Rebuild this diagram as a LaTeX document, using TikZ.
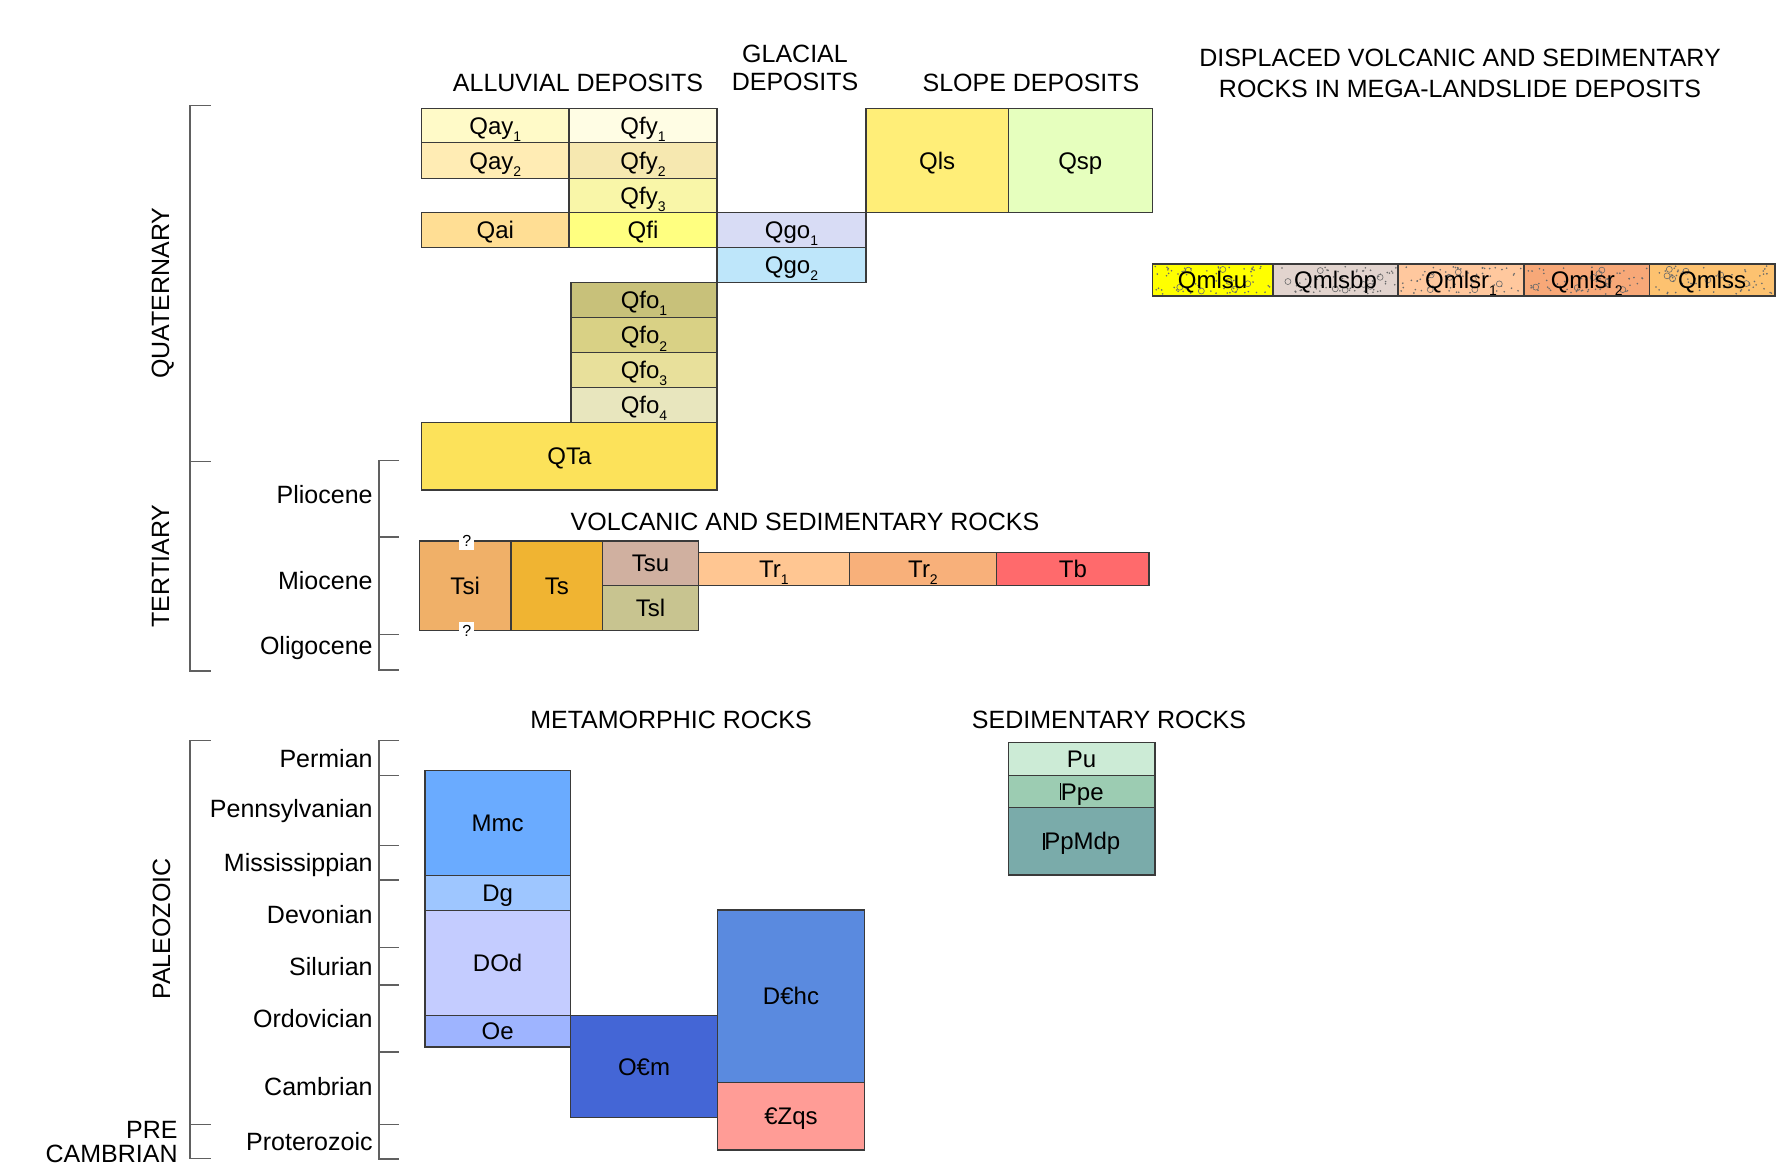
\documentclass[tikz,border=0pt]{standalone}
\usepackage{fontspec}
\setmainfont{Liberation Sans}
\definecolor{boxline}{HTML}{3A3A3A}
\definecolor{brkline}{HTML}{606060}
\definecolor{dotc}{HTML}{6A6A6A}
\newcommand\sub[1]{\raisebox{-3.6pt}{\fontsize{7}{8}\selectfont #1}}
\newcommand\pennP{\mbox{\vrule height 0.716em depth 0pt width 0.075em\kern-0.02em P}}
\newcommand\ubx[8]{%
  \pgfmathsetmacro\ubW{(#4-#2)*0.5}%
  \pgfmathsetmacro\ubH{(#5-#3)*0.5}%
  \definecolor{ubfill}{HTML}{#6}%
  \node[ubox, fill=ubfill, minimum width=\ubW pt, minimum height=\ubH pt, #8] (#1) at ({(#2+#4)/2},{(#3+#5)/2}) {#7};}
% stippled unit: fill + random dots and small rings underneath, then the framed node
\newcommand\stipx[7]{%
  \pgfmathsetmacro\ubW{(#4-#2)*0.5}%
  \pgfmathsetmacro\ubH{(#5-#3)*0.5}%
  \definecolor{ubfill}{HTML}{#6}%
  \fill[ubfill] (#2,#3) rectangle (#4,#5);
  \foreach \k in {1,...,60}{%
    \pgfmathsetmacro\rx{#2+2+rnd*(#4-#2-4)}\pgfmathsetmacro\ry{#3+2+rnd*(#5-#3-4)}%
    \fill[dotc] (\rx,\ry) circle (0.45pt);}
  \foreach \k in {1,...,7}{%
    \pgfmathsetmacro\rx{#2+5+rnd*(#4-#2-10)}\pgfmathsetmacro\ry{#3+5+rnd*(#5-#3-10)}%
    \draw[dotc, line width=0.3pt] (\rx,\ry) circle (1.5pt);}
  \node[ubox, minimum width=\ubW pt, minimum height=\ubH pt] (#1) at ({(#2+#4)/2},{(#3+#5)/2}) {#7};}
\tikzset{
  ubox/.style={draw=boxline, line width=0.6pt, inner sep=0pt, outer sep=0pt,
    font=\fontsize{12}{14}\selectfont, text height=8.6pt, text depth=0pt},
  hdr/.style={font=\fontsize{12.5}{15}\selectfont, inner sep=0pt, text height=9pt, text depth=0pt},
  hdrtwo/.style={inner sep=0pt, align=center, anchor=north},
  eplab/.style={font=\fontsize{12.5}{15}\selectfont, inner sep=0pt, text height=9pt, text depth=0pt, anchor=east},
  brk/.style={draw=brkline, line width=0.6pt},
  qmark/.style={fill=white, inner sep=1.6pt, font=\fontsize{8}{9}\selectfont},
}
\begin{document}
\begin{tikzpicture}[x=0.5pt, y=-0.5pt]
\pgfmathsetseed{17}
\fill[white] (0,0) rectangle (1782,1174);
\useasboundingbox (0,0) rectangle (1782,1174);

% ---------- headers ----------
\node[hdr] (hAll) at (578,82) {ALLUVIAL DEPOSITS};
\node[hdrtwo, font=\fontsize{12.5}{14.3}\selectfont] (hGla) at (795,44.4) {GLACIAL\\DEPOSITS};
\node[hdr] (hSlo) at (1031,82) {SLOPE DEPOSITS};
\node[hdrtwo, font=\fontsize{12.5}{15.3}\selectfont] (hDis) at (1460,49) {DISPLACED VOLCANIC AND SEDIMENTARY\\ROCKS IN MEGA-LANDSLIDE DEPOSITS};
\node[hdr] (hVol) at (805,521.6) {VOLCANIC AND SEDIMENTARY ROCKS};
\node[hdr] (hMet) at (671,719) {METAMORPHIC ROCKS};
\node[hdr] (hSed) at (1109,719) {SEDIMENTARY ROCKS};

% ---------- era labels ----------
\node[hdr, rotate=90] (eQ) at (160,293) {QUATERNARY};
\node[hdr, rotate=90] (eT) at (160,566) {TERTIARY};
\node[hdr, rotate=90] (eP) at (161,929) {PALEOZOIC};
\node[inner sep=0pt, align=right, anchor=north east, font=\fontsize{12.5}{11.9}\selectfont] (ePre) at (178,1120.7) {PRE\\CAMBRIAN};

% ---------- brackets ----------
\draw[brk] (210.7,105.3) -- (190,105.3) -- (190,671) -- (210.7,671);
\draw[brk] (190,461.2) -- (210.7,461.2);
\draw[brk] (399,460.5) -- (379,460.5) -- (379,670) -- (399,670);
\draw[brk] (379,537) -- (399,537);
\draw[brk] (379,634.6) -- (399,634.6);
\draw[brk] (210.7,740.7) -- (190,740.7) -- (190,1158.3) -- (210.7,1158.3);
\draw[brk] (190,1124.3) -- (210.7,1124.3);
\draw[brk] (399,740.7) -- (379,740.7) -- (379,1159) -- (399,1159);
\foreach \yy in {775.3,845.3,880,947.3,985,1052,1124.3}{\draw[brk] (379,\yy) -- (399,\yy);}

% ---------- epoch labels ----------
\node[eplab] (pli) at (373,494) {Pliocene};
\node[eplab] (mio) at (373,580) {Miocene};
\node[eplab] (oli) at (373,645) {Oligocene};
\node[eplab] (per) at (373,758) {Permian};
\node[eplab] (pen) at (373,808) {Pennsylvanian};
\node[eplab] (mis) at (373,862) {Mississippian};
\node[eplab] (dev) at (373,914) {Devonian};
\node[eplab] (sil) at (373,966.5) {Silurian};
\node[eplab] (ord) at (373,1018) {Ordovician};
\node[eplab] (cam) at (373,1086.5) {Cambrian};
\node[eplab] (pro) at (373,1141.5) {Proterozoic};

% ---------- Quaternary units ----------
\ubx{Qay1}{421.7}{108.3}{569}{142.7}{FFFAC8}{Qay\sub{1}}{}
\ubx{Qfy1}{569}{108.3}{717}{142.7}{FFFDE4}{Qfy\sub{1}}{}
\ubx{Qay2}{421.7}{142.7}{569}{178.3}{FFECB4}{Qay\sub{2}}{}
\ubx{Qfy2}{569}{142.7}{717}{178.3}{F6E8B0}{Qfy\sub{2}}{}
\ubx{Qfy3}{569}{178.3}{717}{212.7}{F9F6A8}{Qfy\sub{3}}{}
\ubx{Qai}{421.7}{212.7}{569}{247.3}{FFDE94}{Qai}{}
\ubx{Qfi}{569}{212.7}{717}{247.3}{FFFF80}{Qfi}{}
\ubx{Qgo1}{717}{212.7}{866}{247.3}{D8DCF5}{Qgo\sub{1}}{}
\ubx{Qgo2}{717}{247.3}{866}{282.3}{BEE6FA}{Qgo\sub{2}}{}
\ubx{Qfo1}{571}{282.3}{717}{317.7}{C8C17A}{Qfo\sub{1}}{}
\ubx{Qfo2}{571}{317.7}{717}{352.7}{D9D185}{Qfo\sub{2}}{}
\ubx{Qfo3}{571}{352.7}{717}{387.3}{E8E09B}{Qfo\sub{3}}{}
\ubx{Qfo4}{571}{387.3}{717}{422.3}{E8E6BE}{Qfo\sub{4}}{}
\ubx{QTa}{421.7}{422.3}{717}{490}{FCE25A}{QTa}{}
\ubx{Qls}{866}{108.3}{1008.3}{212.7}{FFEE78}{Qls}{}
\ubx{Qsp}{1008.3}{108.3}{1152.3}{212.7}{E6FFBE}{Qsp}{}

% ---------- mega-landslide units ----------
\stipx{Qmlsu}{1152.3}{264}{1273}{296}{FFFF00}{Qmlsu}
\stipx{Qmlsbp}{1273}{264}{1398}{296}{E2D4CE}{Qmlsbp}
\stipx{Qmlsr1}{1398}{264}{1524}{296}{FFC89E}{Qmlsr\sub{1}}
\stipx{Qmlsr2}{1524}{264}{1649.3}{296}{F7A878}{Qmlsr\sub{2}}
\stipx{Qmlss}{1649.3}{264}{1775}{296}{FDC270}{Qmlss}

% ---------- Tertiary units ----------
\ubx{Tsi}{419.3}{541}{511}{630.7}{F0B068}{Tsi}{}
\ubx{Ts}{511}{541}{602.7}{630.7}{F0B432}{Ts}{}
\ubx{Tsu}{602.7}{541}{698.3}{585.7}{D0B0A0}{Tsu}{}
\ubx{Tsl}{602.7}{585.7}{698.3}{630.7}{C8C490}{Tsl}{}
\ubx{Tr1}{698.3}{552.3}{849.3}{585.5}{FFC692}{Tr\sub{1}}{}
\ubx{Tr2}{849.3}{552.3}{996.7}{585.5}{F8B07A}{Tr\sub{2}}{}
\ubx{Tb}{996.7}{552.3}{1149}{585.5}{FF6A6C}{Tb}{}
\node[qmark] (q1) at (466.7,541) {?};
\node[qmark] (q2) at (466.7,630.7) {?};

% ---------- metamorphic units ----------
\ubx{Mmc}{425}{770.7}{570.3}{875.7}{6AABFF}{Mmc}{}
\ubx{Dg}{425}{875.7}{570.3}{910.3}{9EC6FF}{Dg}{}
\ubx{DOd}{425}{910.3}{570.3}{1015.3}{C4CCFF}{DOd}{}
\ubx{Oe}{425}{1015.3}{570.3}{1047}{9EB4FF}{Oe}{}
\ubx{OCm}{570.3}{1015.3}{717.7}{1117.7}{4466D6}{O€m}{}
\ubx{DChc}{717.7}{910}{864.3}{1082.3}{5A8ADF}{D€hc}{}
\ubx{CZqs}{717.7}{1082.3}{864.3}{1150}{FF9C96}{€Zqs}{}

% ---------- sedimentary units ----------
\ubx{Pu}{1008.3}{742.7}{1155}{775.3}{CCEBD6}{Pu}{}
\ubx{Ppe}{1008.3}{775.3}{1155}{807.7}{9CCCB2}{\pennP pe}{}
\ubx{PpMdp}{1008.3}{807.7}{1155}{875}{7AABAA}{\pennP pMdp}{}
\end{tikzpicture}
\end{document}
